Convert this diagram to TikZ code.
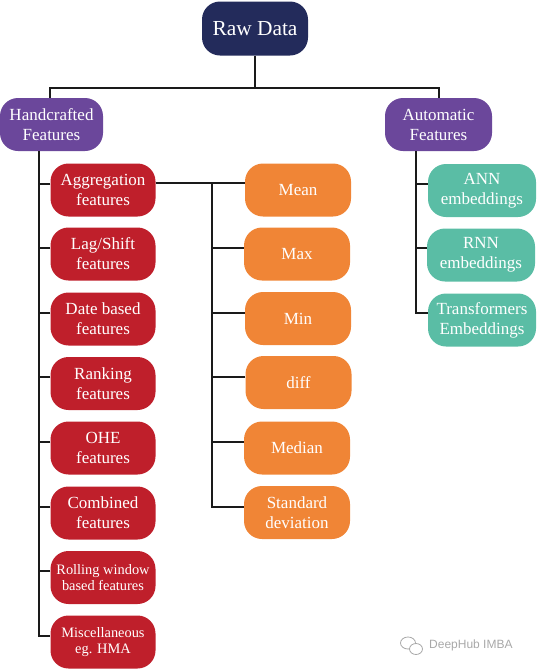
\documentclass[tikz,border=0pt]{standalone}
\usepackage{fontspec}
\setmainfont{Liberation Serif}
\newfontfamily\wmfont{Liberation Sans}
\definecolor{navy}{HTML}{232B5B}
\definecolor{purp}{HTML}{6B479B}
\definecolor{redbox}{HTML}{BF1F2B}
\definecolor{orng}{HTML}{F08536}
\definecolor{teal}{HTML}{5ABDA5}
\definecolor{linec}{HTML}{1A1A1A}
\definecolor{wm}{HTML}{A8A8A8}
\tikzset{
  box/.style={rounded corners=18pt, minimum height=53pt, inner sep=0pt, text=white, align=center,
    font=\fontsize{17}{20}\selectfont},
  smalltxt/.style={font=\fontsize{14.4}{16.7}\selectfont},
  rawbox/.style={box, fill=navy, minimum width=106pt, minimum height=54pt, font=\fontsize{21.4}{24}\selectfont},
  purpbox/.style={box, fill=purp},
  redb/.style={box, fill=redbox, minimum width=105pt},
  orb/.style={box, fill=orng, minimum width=106pt},
  tealb/.style={box, fill=teal, minimum width=108pt},
  conn/.style={draw=linec, line width=2pt},
}
\begin{document}
\begin{tikzpicture}[x=1pt,y=-1pt]
\useasboundingbox (0,0) rectangle (537,670);
% top
\node[rawbox] (raw) at (255,28.5) {Raw Data};
\node[purpbox, minimum width=103pt] (hand) at (51.5,124.5) {Handcrafted\\Features};
\node[purpbox, minimum width=107pt] (auto) at (438.5,124.5) {Automatic\\Features};
% red column
\node[redb] (agg) at (103,190) {Aggregation\\features};
\node[redb] (lag) at (103,254) {Lag/Shift\\features};
\node[redb] (date) at (103,319) {Date based\\features};
\node[redb] (rank) at (103,383.5) {Ranking\\features};
\node[redb] (ohe) at (103,448) {OHE\\features};
\node[redb] (comb) at (103,513) {Combined\\features};
\node[redb, smalltxt] (roll) at (103,577.5) {Rolling window\\based features};
\node[redb, smalltxt] (misc) at (103,642) {Miscellaneous\\eg. HMA};
% orange column
\node[orb] (mean) at (298,190) {Mean};
\node[orb] (max) at (297,254) {Max};
\node[orb] (min) at (298,318.5) {Min};
\node[orb] (diff) at (298.5,382.5) {diff};
\node[orb] (median) at (297,448) {Median};
\node[orb] (std) at (297,512.5) {Standard\\deviation};
% teal column
\node[tealb] (ann) at (482,190.5) {ANN\\embeddings};
\node[tealb] (rnn) at (481,255) {RNN\\embeddings};
\node[tealb] (trans) at (482,320) {Transformers\\Embeddings};
% connectors top
\coordinate (jn) at (255,88);
\draw[conn] (raw.south) -- (jn);
\draw[conn] (jn) -| ([xshift=-1.5pt]hand.north);
\draw[conn] (jn) -| (auto.north);
% left trunk
\coordinate (hs) at (39,151);
\draw[conn] (hs) |- ([yshift=6pt]misc.west);
\foreach \b in {agg,lag,date,rank,ohe,comb,roll}{
  \draw[conn] ([yshift=6.5pt]\b.west) -- ([yshift=6.5pt]\b.west -| hs);
}
% middle trunk
\coordinate (mt) at (212,183);
\draw[conn] ([yshift=7pt]agg.east) -- ([yshift=7pt]mean.west);
\draw[conn] (mt) |- ([yshift=6pt]std.west);
\foreach \b in {max,min,diff,median}{
  \draw[conn] ([yshift=6pt]\b.west) -- ([yshift=6pt]\b.west -| mt);
}
% right trunk
\coordinate (rt) at (416,151);
\draw[conn] (rt) |- ([yshift=7pt]trans.west);
\foreach \b in {ann,rnn}{
  \draw[conn] ([yshift=7pt]\b.west) -- ([yshift=7pt]\b.west -| rt);
}
% watermark
\draw[wm, line width=0.8pt] (408,643) ellipse (7.5pt and 6pt);
\draw[wm, line width=0.8pt, fill=white] (416,649) ellipse (6.5pt and 5.5pt);
\node[wm, font=\wmfont\fontsize{12}{14}\selectfont, anchor=west, inner sep=0pt] (wmtxt) at (429,645.5) {DeepHub IMBA};
\end{tikzpicture}
\end{document}
